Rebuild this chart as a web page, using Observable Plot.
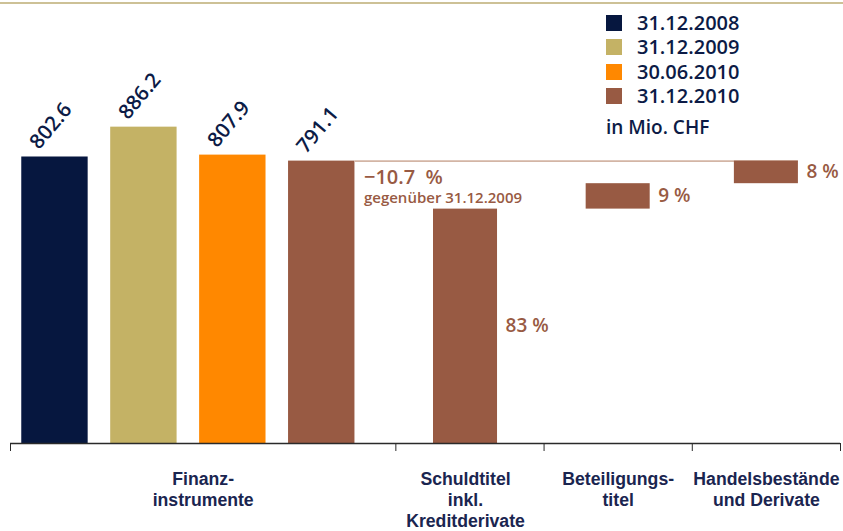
<!DOCTYPE html>
<html><head><meta charset="utf-8">
<script src="https://cdn.jsdelivr.net/npm/d3@7"></script>
<script src="https://cdn.jsdelivr.net/npm/@observablehq/plot@0.6"></script>
<style>
body{margin:0;background:#fff;}
#wrap{position:relative;width:843px;height:531px;overflow:hidden;background:#fff;}
#topline{position:absolute;left:0;top:2px;width:843px;height:2px;background:#cdc196;}
#legend{position:absolute;left:606px;top:11px;font-family:"Open Sans",sans-serif;font-weight:600;font-size:20px;color:#0c1b46;}
.row{display:flex;align-items:center;height:24.3px;line-height:20px;}
.row span{display:inline-block;height:20px;line-height:20px;}
.sw{width:16px;height:16px;margin-right:15px;flex:none;}
.unit{margin-top:9px;font-size:19px;line-height:20px;height:20px;}
</style></head><body>
<div id="wrap"><div id="topline"></div><div id="chart"></div><div id="legend"></div></div>
<script>
// ---- data ----
const dates = ["31.12.2008", "31.12.2009", "30.06.2010", "31.12.2010"];
const totals = [802.6, 886.2, 807.9, 791.1];            // Finanzinstrumente, in Mio. CHF
const dateColors = ["#06173f", "#c4b265", "#ff8800", "#985a43"];
const components = ["Schuldtitel\ninkl.\nKreditderivate", "Beteiligungs-\ntitel", "Handelsbestände\nund Derivate"];
const shares = [83, 9, 8];                               // % of total at 31.12.2010
const groupLabel = "Finanz-\ninstrumente";
const changeText = "\u221210.7\u00a0\u00a0%";
const changeNote = "gegenüber 31.12.2009";
const unitText = "in Mio. CHF";

// ---- layout (x units): date bars 3 units apart, component columns 5 units wide ----
const dateStep = 3, compStep = 5, groupWidth = 13;
const dateHalf = 1.12, compHalf = 1.08, compShift = -0.15;
const navy = "#0c1b46";
const brown = dateColors[3];

const dateRows = dates.map((d, i) => ({date: d, value: totals[i], color: dateColors[i], c: dateStep / 2 + dateStep * i}));
const base = totals[totals.length - 1];
let acc = 0;
const compRows = components.map((name, j) => {
  const lo = acc; acc += base * shares[j] / 100;
  return {name, share: shares[j], lo, hi: acc, c: groupWidth + compStep * (j + 0.5) + (j === 0 ? compShift : 0)};
});
const boundaries = [0, groupWidth, ...components.map((_, j) => groupWidth + compStep * (j + 1))];
const last = dateRows[dateRows.length - 1];
const catFont = {className: "cat", fontFamily: "'Liberation Sans',Arial,sans-serif", fontWeight: "bold", fontSize: 19, fill: "#1a2550", lineAnchor: "top", lineHeight: 1.12, dy: 26};

const chart = Plot.plot({
  width: 843, height: 531,
  marginLeft: 10, marginRight: 3, marginTop: 0, marginBottom: 88,
  x: {domain: [0, boundaries[boundaries.length - 1]], axis: null},
  y: {domain: [0, 1241], axis: null},
  style: {fontFamily: "'Open Sans',sans-serif", background: "transparent", overflow: "visible"},
  marks: [
    Plot.rectY(dateRows, {x1: d => d.c - dateHalf, x2: d => d.c + dateHalf, y1: 0, y2: "value", fill: "color"}),
    Plot.ruleY([base], {x1: last.c + dateHalf, x2: compRows[2].c + compHalf, stroke: "#d3b5a5", strokeWidth: 1.6}),
    Plot.rectY(compRows, {x1: d => d.c - compHalf, x2: d => d.c + compHalf, y1: "lo", y2: "hi", fill: brown}),
    Plot.ruleY([0], {stroke: "#2a2a2a", strokeWidth: 1.5}),
    Plot.axisX(boundaries, {tickSize: 8, tickFormat: () => "", stroke: "#2a2a2a", label: null}),
    Plot.text(dateRows, {x: "c", y: "value", text: d => d.value.toFixed(1), rotate: -50, dx: -4, dy: -31, fill: navy, fontSize: 20.5, fontWeight: 600}),
    Plot.text(compRows, {x: d => d.c + compHalf, y: d => (d.lo + d.hi) / 2, text: d => `${d.share}\u00a0%`, dx: 8, textAnchor: "start", fill: brown, fontSize: 19, fontWeight: 600}),
    Plot.text([changeText], {x: last.c + dateHalf, y: base, text: d => d, dx: 9, dy: 16, textAnchor: "start", fill: brown, fontSize: 20, fontWeight: 600}),
    Plot.text([changeNote], {x: last.c + dateHalf, y: base, text: d => d, dx: 9, dy: 37, textAnchor: "start", fill: brown, fontSize: 15, fontWeight: 600}),
    Plot.text(compRows, {x: "c", y: 0, text: "name", ...catFont}),
    Plot.text([groupLabel], {x: groupWidth / 2, y: 0, text: d => d, ...catFont})
  ]
});
// condense the category labels horizontally (no narrow font installed)
chart.querySelectorAll(".cat text").forEach(t => {
  const tr = t.getAttribute("transform") || "";
  t.setAttribute("transform", tr + " scale(0.93,1)");
});
document.getElementById("chart").appendChild(chart);

// ---- legend (HTML overlay) ----
const legend = document.getElementById("legend");
dates.forEach((d, i) => {
  const row = document.createElement("div"); row.className = "row";
  const sw = document.createElement("div"); sw.className = "sw"; sw.style.background = dateColors[i];
  const t = document.createElement("span"); t.textContent = d;
  row.append(sw, t); legend.appendChild(row);
});
const u = document.createElement("div"); u.className = "unit"; u.textContent = unitText; legend.appendChild(u);
</script></body></html>
